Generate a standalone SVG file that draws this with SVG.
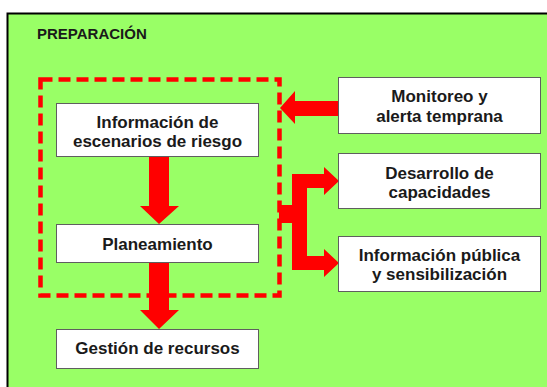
<svg xmlns="http://www.w3.org/2000/svg" width="547" height="387" viewBox="0 0 547 387">
<style>
.box{fill:#ffffff;stroke:#5f5f5f;stroke-width:1}
.lbl{font-family:"Liberation Sans",Arial,sans-serif;font-weight:bold;font-size:17px;fill:#1a1a1a;text-anchor:middle}
.arrow{fill:#ff0000;stroke:none}
</style>
<rect x="0" y="0" width="547" height="387" fill="#ffffff"/>
<rect id="frame" x="7.5" y="13.5" width="560" height="400" fill="#99ff66" stroke="#000000" stroke-width="2"/>
<text x="37" y="39" font-family="Liberation Sans,Arial,sans-serif" font-weight="bold" font-size="15" fill="#1a1a1a">PREPARACIÓN</text>
<g id="group-dashed">
<rect x="40.5" y="79.5" width="239" height="216" fill="none" stroke="#ff0000" stroke-width="4.5" stroke-dasharray="12 6"/>
</g>
<g id="connectors">
<polygon class="arrow" points="149,156 169,156 169,206 179,206 159,224 140,206 149,206"/>
<polygon class="arrow" points="149,262 169,262 169,310 179,310 159,329 140,310 149,310"/>
<polygon class="arrow" points="338,101 295,101 295,91 280,108 295,124 295,116 338,116"/>
<polygon class="arrow" points="279,205 292,205 292,174 324,174 324,167 339,181 324,195 324,188 307,188 307,256 324,256 324,249 339,263 324,277 324,270 292,270 292,223 279,223"/>
</g>
<g id="node-info-escenarios">
<rect class="box" x="56.5" y="103.5" width="202" height="53"/>
<text class="lbl" x="157.5" y="128">Información de</text>
<text class="lbl" x="157.5" y="147">escenarios de riesgo</text>
</g>
<g id="node-planeamiento">
<rect class="box" x="56.5" y="224.5" width="202" height="38"/>
<text class="lbl" x="157.5" y="250">Planeamiento</text>
</g>
<g id="node-gestion">
<rect class="box" x="56.5" y="329.5" width="202" height="39"/>
<text class="lbl" x="157.5" y="354">Gestión de recursos</text>
</g>
<g id="node-monitoreo">
<rect class="box" x="338.5" y="77.5" width="202" height="56"/>
<text class="lbl" x="439.5" y="102">Monitoreo y</text>
<text class="lbl" x="439.5" y="122">alerta temprana</text>
</g>
<g id="node-desarrollo">
<rect class="box" x="338.5" y="153.5" width="202" height="55"/>
<text class="lbl" x="439.5" y="179">Desarrollo de</text>
<text class="lbl" x="439.5" y="198">capacidades</text>
</g>
<g id="node-info-publica">
<rect class="box" x="338.5" y="236.5" width="202" height="55"/>
<text class="lbl" x="439.5" y="261">Información pública</text>
<text class="lbl" x="439.5" y="280">y sensibilización</text>
</g>
</svg>
